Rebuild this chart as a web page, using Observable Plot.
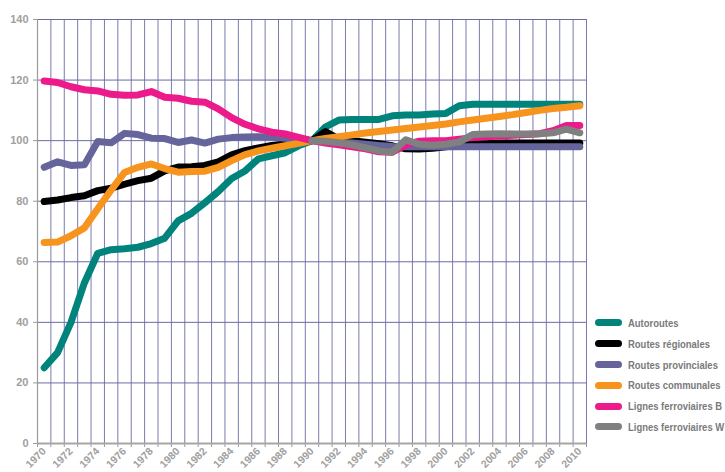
<!DOCTYPE html>
<html><head><meta charset="utf-8">
<script src="https://cdn.jsdelivr.net/npm/d3@7"></script>
<script src="https://cdn.jsdelivr.net/npm/@observablehq/plot@0.6"></script>
<style>
body{margin:0;background:#fff;}
#wrap{position:relative;width:725px;height:472px;overflow:hidden;}
.legend{position:absolute;left:595px;top:312.6px;font-family:"Liberation Sans",Arial,sans-serif;font-weight:bold;font-size:11px;color:#7a7a7a;}
.item{display:flex;align-items:center;height:20.8px;white-space:nowrap;}
.sw{width:27px;height:7px;border-radius:4px;margin-right:6px;flex:none;}
.lbl{display:inline-block;transform-origin:0 50%;}
</style></head>
<body><div id="wrap"></div>
<script>
const years = d3.range(1970, 2011);
const yTicks = [0, 20, 40, 60, 80, 100, 120, 140];
const labelYears = d3.range(1970, 2011, 2);
const seriesNames = ["Autoroutes", "Routes régionales", "Routes provinciales", "Routes communales", "Lignes ferroviaires B", "Lignes ferroviaires W"];
const colors = ["#00837a", "#000000", "#66659b", "#f7941d", "#ec1a8a", "#808080"];

const autoroutes = [25,30,40,53,62.8,64,64.3,64.8,66,67.8,73.5,76,79.5,83.2,87.5,90,94,95,96,98.3,100,104.5,106.8,107,107,107,108.2,108.5,108.5,108.8,109,111.5,112,112,112,112,112,112,112,112,112];
const routesRegionales = [79.9,80.4,81.2,81.8,83.5,84.3,85.6,86.8,87.6,90,91.3,91.4,91.8,93,95.3,96.7,97.6,98.4,98.9,99.6,100,103,100.5,100,99.5,99,98.3,97.3,97.2,97.5,98,98.6,99,99,99.2,99.2,99.2,99.2,99.2,99.2,99.2];
const routesProvinciales = [91.2,93,91.8,92,99.7,99.3,102.4,102,100.8,100.7,99.4,100.2,99.2,100.5,101,101.2,101.3,101.2,100.8,100.4,100,99.8,99.5,99.2,98.8,98.4,98.1,98,98,98,98,98,98,98,98,98,98,98,98,98,98];
const routesCommunales = [66.4,66.5,68.6,71.2,77.5,83.7,89.5,91.2,92.3,90.8,89.6,89.8,89.9,91.2,93.4,95.4,96.6,97.5,98.3,99.1,100,100.7,101.3,101.9,102.5,103,103.5,104,104.5,105,105.5,106.2,106.8,107.4,108,108.6,109.3,110,110.6,111,111.5];
const lignesB = [119.7,119.2,117.8,116.8,116.4,115.3,115,115.1,116.2,114.3,114,113,112.7,110.5,107.6,105.4,103.9,102.8,102.2,101.1,100,99.2,98.6,98,97.3,96.3,96.2,98.6,99.8,100,100,100.5,101,101.3,101.5,101.8,102,102.3,103.3,105,105];
const lignesWYears = d3.range(1990, 2011);
const lignesW = [100,99.8,99.3,98.6,97.6,96.6,96.2,100.3,98.8,98.5,98.8,99.6,102,102.2,102.3,102.2,102.2,102.3,102.6,103.8,102.6];

const allSeries = [
  {years, values: autoroutes},
  {years, values: routesRegionales},
  {years, values: routesProvinciales},
  {years, values: routesCommunales},
  {years, values: lignesB},
  {years: lignesWYears, values: lignesW}
];

const boundaries = years.map(y => y + 0.5);
const font = '"Liberation Sans",Arial,sans-serif';

const lineMarks = allSeries.map((s, i) =>
  Plot.line(s.values.map((v, j) => ({year: s.years[j], value: v})), {
    x: "year", y: "value", stroke: colors[i], strokeWidth: 7,
    strokeLinecap: "round", strokeLinejoin: "round"
  })
);

const chart = Plot.plot({
  width: 725, height: 472,
  marginLeft: 37, marginRight: 139, marginTop: 19, marginBottom: 29,
  style: {fontFamily: font, fontSize: "10.5px", fontWeight: "bold", background: "#fff"},
  x: {type: "linear", domain: [1969.5, 2010.5], axis: null, label: null},
  y: {domain: [0, 140], axis: null, label: null},
  marks: [
    Plot.ruleX(boundaries, {stroke: "#7a7ab0", strokeWidth: 1}),
    Plot.ruleY(yTicks.filter(d => d > 0), {stroke: "#6a6aa4", strokeWidth: 1}),
    Plot.ruleX([1969.5], {stroke: "#9a9a9a", strokeWidth: 1.2}),
    Plot.axisY({ticks: yTicks, label: null, tickSize: 4, tickPadding: 5, stroke: "#9a9a9a", fill: "#a0a0a0", fontSize: 11, fontWeight: "bold"}),
    Plot.axisX({ticks: [1969.5, ...boundaries], label: null, tickSize: 4, tickFormat: () => "", stroke: "#9a9a9a"}),
    Plot.axisX({ticks: labelYears, label: null, tickSize: 0, tickPadding: 6, tickRotate: -45, tickFormat: d => String(d), fill: "#a0a0a0", fontSize: 10.5, fontWeight: "bold"}),
    ...lineMarks,
    Plot.ruleY([0], {stroke: "#a6a6a6", strokeWidth: 2})
  ]
});

const wrap = document.getElementById("wrap");
wrap.appendChild(chart);
const legend = document.createElement("div");
legend.className = "legend";
const ctx = document.createElement("canvas").getContext("2d");
ctx.font = 'bold 11px "Liberation Sans", Arial, sans-serif';
const squeeze = 82 / ctx.measureText("Routes régionales").width;
seriesNames.forEach((name, i) => {
  const item = document.createElement("div");
  item.className = "item";
  const sw = document.createElement("span");
  sw.className = "sw";
  sw.style.background = colors[i];
  const t = document.createElement("span");
  t.className = "lbl";
  t.style.transform = `scaleX(${squeeze})`;
  t.textContent = name;
  item.appendChild(sw);
  item.appendChild(t);
  legend.appendChild(item);
});
wrap.appendChild(legend);
</script></body></html>
